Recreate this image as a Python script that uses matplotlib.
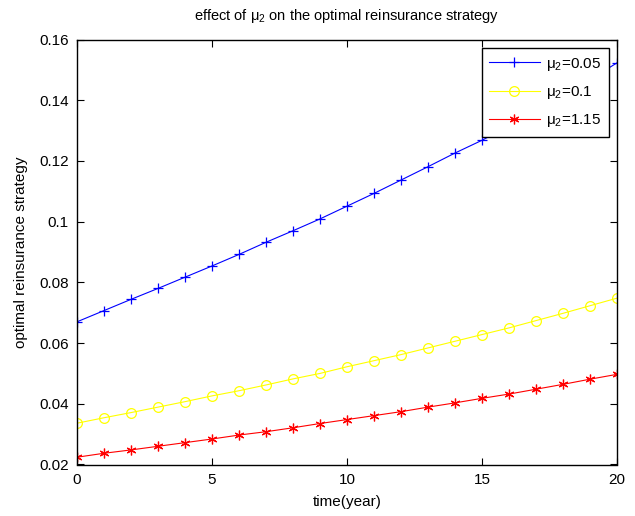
import matplotlib
matplotlib.use("Agg")
import matplotlib.pyplot as plt
from matplotlib.ticker import FormatStrFormatter

plt.rcParams['font.family'] = ['Liberation Sans', 'DejaVu Sans']
plt.rcParams['mathtext.fontset'] = 'custom'
plt.rcParams['mathtext.rm'] = 'Liberation Sans'
plt.rcParams['mathtext.it'] = 'Liberation Sans'
plt.rcParams['mathtext.default'] = 'regular'

# time grid (years)
t = list(range(0, 21))

# mu2 = 0.05
q_005 = [0.0670, 0.0707, 0.0744, 0.0780, 0.0817, 0.0854, 0.0892, 0.0932,
         0.0970, 0.1009, 0.1051, 0.1093, 0.1137, 0.1181, 0.1226, 0.1268,
         0.1315, 0.1364, 0.1415, 0.1468, 0.1523]
# mu2 = 0.1
q_01 = [0.0336, 0.0354, 0.0371, 0.0389, 0.0407, 0.0426, 0.0443, 0.0462,
        0.0482, 0.0500, 0.0522, 0.0542, 0.0562, 0.0584, 0.0606, 0.0628,
        0.0650, 0.0674, 0.0698, 0.0723, 0.0748]
# mu2 = 1.15
q_115 = [0.0224, 0.0237, 0.0248, 0.0260, 0.0272, 0.0284, 0.0297, 0.0308,
         0.0321, 0.0335, 0.0348, 0.0361, 0.0374, 0.0389, 0.0403, 0.0418,
         0.0432, 0.0448, 0.0464, 0.0481, 0.0497]

labels = [r'$\mu_2$=0.05', r'$\mu_2$=0.1', r'$\mu_2$=1.15']

fig = plt.figure(figsize=(6.35, 5.16), dpi=100)
ax = fig.add_axes([77 / 635, 51.5 / 516, 540 / 635, 425 / 516])

ax.plot(t, q_005, color=(0, 0, 1), marker='+', markersize=7, markeredgewidth=0.9,
        linewidth=0.8, label=labels[0])
ax.plot(t, q_01, color=(1, 1, 0), marker='o', markersize=7, markerfacecolor='none',
        markeredgewidth=0.9, linewidth=0.8, label=labels[1])
# matlab style asterisk
ax.plot(t, q_115, color=(1, 0, 0), marker=(6, 2, 0), markersize=7,
        markeredgewidth=0.9, linewidth=0.8, label=labels[2])

ax.set_xlim(0, 20)
ax.set_ylim(0.02, 0.16)
ax.set_xticks([0, 5, 10, 15, 20])
ax.set_yticks([0.02, 0.04, 0.06, 0.08, 0.1, 0.12, 0.14, 0.16])
ax.yaxis.set_major_formatter(FormatStrFormatter('%g'))
ax.tick_params(direction='in', top=True, right=True, length=5, width=0.8,
               labelsize=11, pad=6)
for s in ax.spines.values():
    s.set_linewidth(1.0)

ax.set_title(r'effect of $\mu_2$ on the optimal reinsurance strategy',
             fontsize=10.5, pad=14)
ax.set_xlabel('time(year)', fontsize=11, labelpad=6)
ax.set_ylabel('optimal reinsurance strategy', fontsize=11, labelpad=8)

leg = ax.legend(loc='upper right', fontsize=11, handlelength=3.3,
                labelspacing=0.75, borderaxespad=0.55, fancybox=False,
                framealpha=1, edgecolor='black', handletextpad=0.4,
                borderpad=0.5)
leg.get_frame().set_linewidth(1.0)

fig.savefig('out.png', dpi=100)
